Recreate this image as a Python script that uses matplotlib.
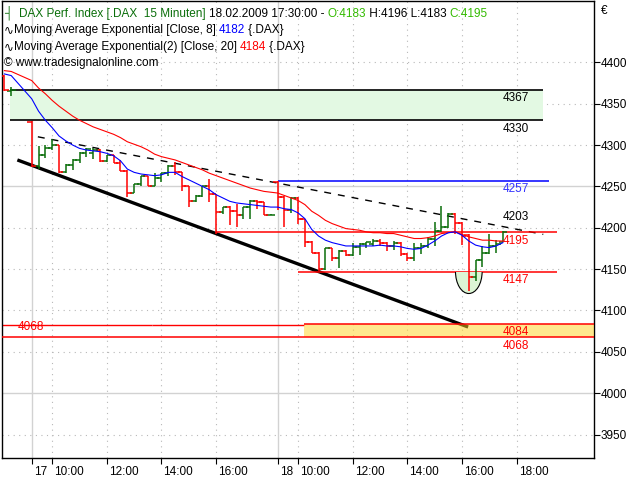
import matplotlib
matplotlib.use("Agg")
import matplotlib.pyplot as plt
import numpy as np
from matplotlib.patches import Ellipse, Rectangle
from matplotlib.transforms import ScaledTranslation

plt.rcParams['font.family'] = ['Liberation Sans', 'DejaVu Sans']

# 15 minute bars of the DAX, x = bar slot (36 slots per session, 09:15 .. 18:00)
slots = [-4, -3] + list(range(0, 70))
opens = [4383, 4365,
         4328, 4275, 4288, 4296, 4300, 4267, 4276, 4282, 4290, 4290, 4294, 4281,
         4288, 4278, 4269, 4242, 4253, 4262, 4250, 4260, 4266, 4275, 4267, 4250,
         4232, 4239, 4250, 4241, 4219, 4225, 4220, 4215, 4225, 4232, 4231, 4215,
         4255, 4237, 4222, 4236, 4210, 4183, 4170, 4150, 4175, 4163, 4172, 4167,
         4177, 4180, 4180, 4184, 4181, 4178, 4182, 4168, 4163, 4176, 4178, 4187,
         4196, 4201, 4217, 4206, 4191, 4140, 4161, 4170, 4178, 4183]
highs = [4385, 4370,
         4329, 4299, 4300, 4307, 4300, 4277, 4283, 4292, 4297, 4297, 4295, 4288,
         4288, 4282, 4270, 4253, 4262, 4262, 4266, 4266, 4276, 4280, 4267, 4250,
         4240, 4251, 4259, 4241, 4225, 4226, 4229, 4225, 4233, 4233, 4231, 4217,
         4257, 4238, 4237, 4237, 4211, 4184, 4171, 4175, 4176, 4173, 4173, 4181,
         4182, 4183, 4186, 4187, 4183, 4184, 4183, 4170, 4181, 4181, 4189, 4207,
         4226, 4218, 4218, 4207, 4192, 4161, 4178, 4193, 4185, 4196]
lows = [4365, 4359,
        4273, 4271, 4284, 4294, 4266, 4266, 4270, 4278, 4286, 4283, 4279, 4280,
        4278, 4269, 4237, 4242, 4250, 4250, 4250, 4255, 4262, 4264, 4245, 4225,
        4231, 4237, 4231, 4193, 4217, 4203, 4201, 4211, 4211, 4223, 4215, 4215,
        4222, 4201, 4218, 4205, 4177, 4169, 4148, 4149, 4160, 4151, 4166, 4166,
        4167, 4176, 4178, 4178, 4172, 4173, 4166, 4160, 4160, 4168, 4176, 4178,
        4195, 4200, 4193, 4179, 4123, 4136, 4152, 4168, 4170, 4183]
closes = [4366, 4367,
          4275, 4288, 4296, 4300, 4267, 4276, 4282, 4290, 4295, 4294, 4281, 4288,
          4278, 4269, 4242, 4253, 4262, 4250, 4260, 4266, 4275, 4267, 4250, 4232,
          4239, 4250, 4241, 4219, 4225, 4220, 4215, 4225, 4232, 4231, 4215, 4216,
          4237, 4222, 4236, 4210, 4183, 4170, 4150, 4175, 4163, 4172, 4167, 4177,
          4180, 4183, 4184, 4181, 4178, 4182, 4168, 4163, 4176, 4178, 4187, 4196,
          4201, 4217, 4206, 4190, 4140, 4161, 4170, 4178, 4180, 4195]
ema8 = [4386, 4384,
        4356, 4341, 4330, 4321, 4311, 4305, 4300, 4296, 4294, 4293, 4292, 4290,
        4287, 4281, 4271, 4267, 4265, 4264, 4263, 4264, 4267, 4267, 4262, 4258,
        4254, 4250, 4246, 4240, 4236, 4232, 4230, 4229, 4228, 4227, 4226, 4225,
        4225, 4223, 4222, 4218, 4211, 4198, 4190, 4185, 4182, 4180, 4178, 4178,
        4178, 4178, 4178, 4179, 4178, 4178, 4177, 4175, 4174, 4175, 4179, 4184,
        4190, 4194, 4195, 4191, 4184, 4179, 4177, 4176, 4178, 4182]
ema20 = [4390, 4389,
         4378, 4369, 4362, 4354, 4347, 4341, 4335, 4330, 4326, 4322, 4319, 4316,
         4313, 4309, 4304, 4301, 4298, 4294, 4289, 4286, 4284, 4282, 4279, 4276,
         4273, 4270, 4266, 4263, 4260, 4257, 4254, 4251, 4248, 4246, 4244, 4243,
         4242, 4239, 4236, 4233, 4228, 4220, 4215, 4209, 4205, 4202, 4199, 4198,
         4197, 4195, 4194, 4194, 4193, 4193, 4191, 4189, 4187, 4187, 4188, 4190,
         4193, 4194, 4195, 4192, 4189, 4187, 4185, 4185, 4184, 4184]

tick_slots = [0, 3, 11, 19, 27, 36, 39, 47, 55, 63, 71]
tick_labels = ["17", "10:00", "12:00", "14:00", "16:00",
               "18", "10:00", "12:00", "14:00", "16:00", "18:00"]
price_ticks = list(range(3950, 4401, 50))

# drawing tools placed on the chart
zone_levels = [4330, 4367]
zone_span = [-3.2, 74.9]
dash_x = [0.9, 74.9]
dash_y = [4310, 4192]
support_x = [-2.1, 63.9]
support_y = [4282, 4080]
levels = [4257, 4195, 4147]
level_starts = [36, 27, 39]
level_ends = [75.8, 76.9, 76.9]
level_colors = ['#0000ff', '#ff0000', '#ff0000']
box_levels = [4068, 4084]
box_start = 39.9
old_levels = [4082, 4083]
old_starts = [-4.35, 17.6]
old_ends = [17.6, 39.9]
circle_center = (64, 4147)
label_slot = 69
labels = [("4367", 4367, 'black', False), ("4330", 4330, 'black', False),
          ("4257", 4257, '#3333ff', False), ("4203", 4203, 'black', True),
          ("4195", 4195, '#ff0000', False), ("4147", 4147, '#ff0000', False),
          ("4084", 4084, '#ff0000', False), ("4068", 4068, '#ff0000', False)]

GREEN = '#0a6e0a'
RED = '#ff0000'

fig = plt.figure(figsize=(6.4, 4.8), dpi=100)
ax = fig.add_axes([2 / 640, 22 / 480, 592 / 640, 457 / 480])
ax.set_xlim(-4.35, 82.33)
ax.set_ylim(3921.6, 4474.2)

# grid
for p in price_ticks:
    if p in (4000, 4250):
        ax.axhline(p, color='#d2d2d2', lw=1, zorder=0)
    else:
        ax.axhline(p, color='#b8b8b8', lw=0.8, ls=(0, (1, 4)), zorder=0)
for s, lab in zip(tick_slots, tick_labels):
    if lab in ("17", "18"):
        ax.axvline(s, color='#d2d2d2', lw=1, zorder=0)
    else:
        ax.axvline(s, color='#b8b8b8', lw=0.8, ls=(0, (1, 4)), zorder=0)

# green zone
ax.add_patch(Rectangle((zone_span[0], zone_levels[0]), zone_span[1] - zone_span[0],
                       zone_levels[1] - zone_levels[0], facecolor='#e3f9e3',
                       edgecolor='none', zorder=1))
ax.hlines(zone_levels, zone_span[0], zone_span[1], colors='black', lw=1.2, zorder=2)

# trend lines
ax.plot(dash_x, dash_y, color='black', lw=1, ls=(0, (5, 5)), zorder=2)
ax.plot(support_x, support_y, color='black', lw=2.4, zorder=2, solid_capstyle='butt')

# horizontal levels
ax.hlines(levels, level_starts, level_ends, colors=level_colors, lw=1.1, zorder=2)
ax.hlines(old_levels, old_starts, old_ends, colors=RED, lw=1, zorder=2)
ax.add_patch(Rectangle((box_start, box_levels[0]), 82.33 - box_start,
                       box_levels[1] - box_levels[0], facecolor='#ffd21e', alpha=0.5,
                       edgecolor='none', zorder=3))
ax.hlines(box_levels[1], box_start, 82.33, colors=RED, lw=1.1, zorder=3)
ax.axhline(box_levels[0], color=RED, lw=1.1, zorder=3)

# circle around the low
circ_fill = Ellipse(circle_center, 3.9, 53, facecolor='#dcf5d4', edgecolor='black',
                    lw=0.8, zorder=2)
ax.add_patch(circ_fill)
clip = Rectangle((circle_center[0] - 3, circle_center[1] - 40), 6, 40,
                 transform=ax.transData)
circ_fill.set_clip_path(clip)

# bars
x = np.array(slots, dtype=float)
o = np.array(opens)
c = np.array(closes)
colors = np.where(c >= o, GREEN, RED)
ax.vlines(x, lows, highs, colors=colors, lw=1.1, zorder=4)
ax.hlines(o, x - 0.65, x, colors=colors, lw=1.1, zorder=4)
ax.hlines(c, x, x + 0.65, colors=colors, lw=1.1, zorder=4)

# moving averages
ax.plot(x, ema20, color='#ff0000', lw=0.8, zorder=5)
ax.plot(x, ema8, color='#0000ff', lw=0.8, zorder=5)

# level labels
for txt, val, col, above in labels:
    ax.annotate(txt, xy=(label_slot, val), xytext=(0, 2 if above else -2),
                textcoords='offset points', color=col, fontsize=8.5,
                ha='left', va='bottom' if above else 'top', zorder=6)
ax.annotate("4068", xy=(-2, 4068), xytext=(0, 3), textcoords='offset points',
            color=RED, fontsize=8.5, ha='left', va='bottom', zorder=6)

# axes
for sp in ax.spines.values():
    sp.set_color('black')
    sp.set_linewidth(1)
ax.yaxis.tick_right()
ax.set_yticks(price_ticks)
ax.set_yticklabels([str(p) for p in price_ticks])
ax.tick_params(axis='y', length=4, pad=1, labelsize=8.5, colors='black')
ax.set_xticks(tick_slots)
ax.set_xticklabels(tick_labels)
ax.tick_params(axis='x', length=4, pad=2, labelsize=8.5, colors='black')
shift = ScaledTranslation(2 / 100, 0, fig.dpi_scale_trans)
for lbl in ax.get_xticklabels():
    lbl.set_horizontalalignment('left')
    lbl.set_transform(lbl.get_transform() + shift)
fig.text(601 / 640, 1 - 14 / 480, "€", fontsize=8.5, ha='left', va='baseline')


# header lines
def header(xp, yp, parts, size=8.5):
    prev = None
    for s, col in parts:
        if prev is None:
            prev = ax.annotate(s, xy=(xp, 480 - yp), xycoords='figure pixels',
                               color=col, fontsize=size, ha='left', va='baseline',
                               zorder=7)
        else:
            prev = ax.annotate(s, xy=(1, 0), xycoords=prev, color=col,
                               fontsize=size, ha='left', va='bottom', zorder=7)


header(4, 16, [("┤  ", GREEN), ("DAX Perf. Index [.DAX  15 Minuten] ", GREEN),
               ("18.02.2009 17:30:00 - ", 'black'), ("O:4183", '#33bb00'),
               (" H:4196 L:4183 ", 'black'), ("C:4195", '#33bb00')])
header(4, 33, [("∿", 'black'), ("Moving Average Exponential [Close, 8] ", 'black'),
               ("4182", '#0000ff'), (" {.DAX}", 'black')])
header(4, 50, [("∿", 'black'), ("Moving Average Exponential(2) [Close, 20] ", 'black'),
               ("4184", '#ff0000'), (" {.DAX}", 'black')])
header(4, 66, [("© www.tradesignalonline.com", 'black')])

fig.savefig("out.png", dpi=100)
